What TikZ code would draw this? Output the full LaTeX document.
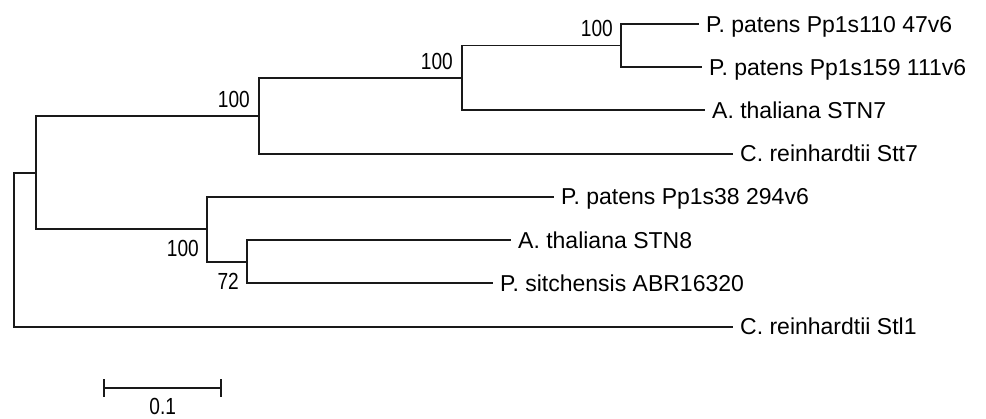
\documentclass[tikz,border=0pt]{standalone}
\usepackage{fontspec}
\setmainfont{Liberation Sans}
\newfontfamily\bootfont[FakeStretch=0.82]{Liberation Sans}
\begin{document}
\begin{tikzpicture}[x=1pt,y=-1pt,
  edge/.style={line width=1.8pt, line cap=rect, line join=miter, black!90},
  leaf/.style={anchor=west, inner xsep=8pt, inner ysep=0pt, text height=16.5pt, text depth=0pt,
    font=\fontsize{23}{27}\selectfont},
  boot/.style={anchor=base east, inner sep=0pt, font=\bootfont\fontsize{23.3}{27}\selectfont}]
\useasboundingbox (0,0) rectangle (986,419);
% internal nodes
\coordinate (r)  at (14,249.7);
\coordinate (a)  at (36,172.7);
\coordinate (b)  at (259,116);
\coordinate (c)  at (462,78);
\coordinate (d)  at (621,45.5);
\coordinate (e)  at (207,229.2);
\coordinate (f)  at (246.7,261.7);
% leaves
\node[leaf] (l1) at (698,24)    {P. patens Pp1s110 47v6};
\node[leaf] (l2) at (701,67)    {P. patens Pp1s159 111v6};
\node[leaf] (l3) at (704,110)   {A. thaliana STN7};
\node[leaf] (l4) at (732,153.7) {C. reinhardtii Stt7};
\node[leaf] (l5) at (553,196.7) {P. patens Pp1s38 294v6};
\node[leaf] (l6) at (510,240)   {A. thaliana STN8};
\node[leaf] (l7) at (492,283.3) {P. sitchensis ABR16320};
\node[leaf] (l8) at (732,326.7) {C. reinhardtii Stl1};
% edges
\draw[edge] (r) |- (a);
\draw[edge] (r) |- (l8.west);
\draw[edge] (a) |- (b);
\draw[edge] (a) |- (e);
\draw[edge] (b) |- (c);
\draw[edge] (b) |- (l4.west);
\draw[edge] (c) |- (d);
\draw[edge] (c) |- (l3.west);
\draw[edge] (d) |- (l1.west);
\draw[edge] (d) |- (l2.west);
\draw[edge] (e) |- (l5.west);
\draw[edge] (e) |- (f);
\draw[edge] (f) |- (l6.west);
\draw[edge] (f) |- (l7.west);
% bootstrap values
\node[boot] (bb) at (250,107.3) {100};
\node[boot] (bc) at (453,69.3)  {100};
\node[boot] (bd) at (613,36.7)  {100};
\node[boot] (be) at (199,256.7) {100};
\node[boot] (bf) at (239,289.3) {72};
% scale bar
\coordinate (s1) at (104.3,388.3);
\coordinate (s2) at (221,388.3);
\draw[edge] (s1) -- (s2);
\draw[edge] ([yshift=-8pt]s1) -- ([yshift=8pt]s1);
\draw[edge] ([yshift=-8pt]s2) -- ([yshift=8pt]s2);
\node[boot, anchor=base] (sl) at (162.7,415) {0.1};
\end{tikzpicture}
\end{document}
